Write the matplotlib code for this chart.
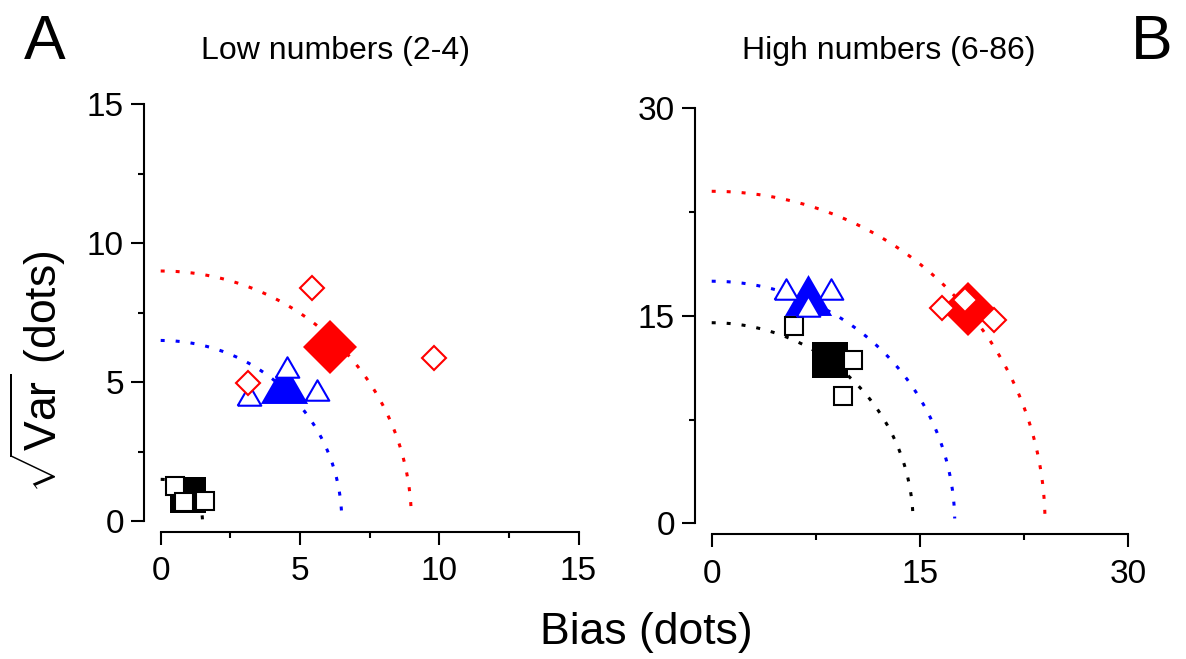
import numpy as np
import matplotlib.pyplot as plt
from matplotlib.ticker import MultipleLocator

plt.rcParams['font.family'] = ['Liberation Sans', 'DejaVu Sans']
plt.rcParams['mathtext.fontset'] = 'custom'
plt.rcParams['mathtext.rm'] = 'Liberation Sans'
plt.rcParams['mathtext.it'] = 'Liberation Sans:italic'

# --- Low numbers (2-4) ---
low_black_mean = (0.97, 0.93)
low_black_x = [0.52, 0.83, 1.59]
low_black_y = [1.25, 0.69, 0.72]
low_blue_mean = (4.43, 4.97)
low_blue_x = [3.18, 4.55, 5.60]
low_blue_y = [4.55, 5.54, 4.72]
low_red_mean = (6.08, 6.27)
low_red_x = [3.13, 5.42, 9.81]
low_red_y = [4.96, 8.40, 5.86]
low_radii = [1.5, 6.5, 9.0]       # black, blue, red

# --- High numbers (6-86) ---
high_black_mean = (8.55, 11.79)
high_black_x = [5.94, 10.16, 9.44]
high_black_y = [14.25, 11.84, 9.22]
high_blue_mean = (6.95, 16.5)
high_blue_x = [5.37, 8.61, 6.90]
high_blue_y = [16.93, 16.93, 15.71]
high_red_mean = (18.43, 15.47)
high_red_x = [16.60, 18.24, 20.33]
high_red_y = [15.55, 16.15, 14.70]
high_radii = [14.5, 17.5, 24.0]

colors = ['black', 'blue', 'red']

# equilateral triangle marker
h = np.sqrt(3)
tri = [(-1, -h / 2), (1, -h / 2), (0, h / 2), (-1, -h / 2)]


def draw_panel(ax, radii, black, blue, red, lim, major, minor):
    # quarter circles, drawn from the y axis down towards the x axis
    theta = np.linspace(np.pi / 2, 0.02, 200)
    for r, c in zip(radii, colors):
        ax.plot(r * np.cos(theta), r * np.sin(theta), color=c, lw=2.2,
                linestyle=(0, (1.3, 3.6)), clip_on=False)

    (bm, bx, by), (um, ux, uy), (rm, rx, ry) = black, blue, red
    kw = dict(linestyle='none', clip_on=False)
    ax.plot(*bm, marker='s', ms=26.6, color='black', mew=0, **kw)
    ax.plot(bx, by, marker='s', ms=12.5, mfc='white', mec='black', mew=1.5, **kw)
    ax.plot(*um, marker=tri, ms=34, color='blue', mew=0, **kw)
    ax.plot(ux, uy, marker=tri, ms=17, mfc='white', mec='blue', mew=1.5, **kw)
    ax.plot(*rm, marker='D', ms=27, color='red', mew=0, **kw)
    ax.plot(rx, ry, marker='D', ms=12.3, mfc='white', mec='red', mew=1.5, **kw)

    ax.set_xlim(0, lim)
    ax.set_ylim(0, lim)
    for side in ['top', 'right']:
        ax.spines[side].set_visible(False)
    ax.spines['left'].set_position(('outward', 12))
    ax.spines['bottom'].set_position(('outward', 8))
    for side in ['left', 'bottom']:
        ax.spines[side].set_linewidth(1.5)
    ax.xaxis.set_major_locator(MultipleLocator(major))
    ax.yaxis.set_major_locator(MultipleLocator(major))
    ax.xaxis.set_minor_locator(MultipleLocator(minor))
    ax.yaxis.set_minor_locator(MultipleLocator(minor))
    ax.tick_params(which='major', direction='out', length=9.5, width=1.5, labelsize=24)
    ax.tick_params(which='minor', direction='out', length=4.5, width=1.5)
    ax.tick_params(axis='x', pad=8)
    ax.tick_params(axis='y', pad=5)


fig = plt.figure(figsize=(11.86, 6.59), dpi=100)
ax1 = fig.add_axes([0.1355, 0.2094, 0.3523, 0.6323])
ax2 = fig.add_axes([0.6001, 0.2059, 0.3513, 0.6298])

draw_panel(ax1, low_radii,
           (low_black_mean, low_black_x, low_black_y),
           (low_blue_mean, low_blue_x, low_blue_y),
           (low_red_mean, low_red_x, low_red_y), 15, 5, 2.5)
draw_panel(ax2, high_radii,
           (high_black_mean, high_black_x, high_black_y),
           (high_blue_mean, high_blue_x, high_blue_y),
           (high_red_mean, high_red_x, high_red_y), 30, 15, 7.5)

fig.text(0.283, 0.922, 'Low numbers (2-4)', ha='center', va='center', fontsize=23)
fig.text(0.749, 0.922, 'High numbers (6-86)', ha='center', va='center', fontsize=23)
fig.text(0.038, 0.935, 'A', ha='center', va='center', fontsize=45)
fig.text(0.971, 0.935, 'B', ha='center', va='center', fontsize=45)
fig.text(0.545, 0.04, 'Bias (dots)', ha='center', va='center', fontsize=32)
fig.text(0.032, 0.436, r'$\sqrt{\mathrm{Var}}$ (dots)', ha='center', va='center',
         rotation=90, fontsize=32)

fig.savefig('out.png', dpi=100)
